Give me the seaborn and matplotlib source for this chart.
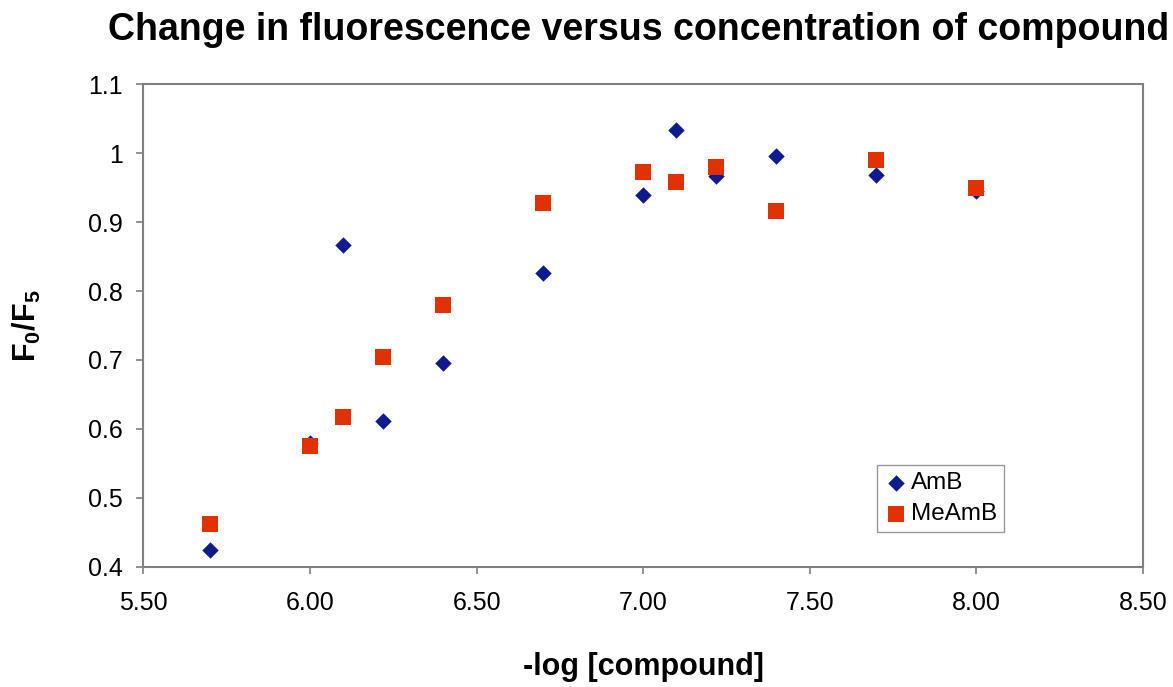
import matplotlib
matplotlib.use("Agg")
import matplotlib.pyplot as plt
import seaborn as sns
import pandas as pd

# -log[compound] values and F0/F5 ratios for each compound
neg_log_conc = [5.70, 6.00, 6.10, 6.22, 6.40, 6.70, 7.00, 7.10, 7.22, 7.40, 7.70, 8.00]
amb_ratio = [0.424, 0.580, 0.867, 0.612, 0.696, 0.826, 0.939, 1.034, 0.966, 0.995, 0.968, 0.945]
meamb_ratio = [0.462, 0.575, 0.618, 0.705, 0.779, 0.928, 0.972, 0.958, 0.980, 0.916, 0.990, 0.949]
series_names = ["AmB", "MeAmB"]
x_ticks = [5.5, 6.0, 6.5, 7.0, 7.5, 8.0, 8.5]
y_ticks = [0.4, 0.5, 0.6, 0.7, 0.8, 0.9, 1.0, 1.1]

df = pd.DataFrame({
    "x": neg_log_conc * 2,
    "y": amb_ratio + meamb_ratio,
    "series": [series_names[0]] * len(amb_ratio) + [series_names[1]] * len(meamb_ratio),
})

sns.set_style("ticks")
plt.rcParams["font.family"] = ["Liberation Sans", "DejaVu Sans"]
plt.rcParams["mathtext.fontset"] = "custom"
plt.rcParams["mathtext.rm"] = "Liberation Sans"
plt.rcParams["mathtext.bf"] = "Liberation Sans:bold"
plt.rcParams["text.color"] = "black"
plt.rcParams["axes.labelcolor"] = "black"
plt.rcParams["xtick.color"] = "#808080"
plt.rcParams["ytick.color"] = "#808080"
plt.rcParams["xtick.labelcolor"] = "black"
plt.rcParams["ytick.labelcolor"] = "black"

fig = plt.figure(figsize=(11.73, 6.87), dpi=100)
ax = fig.add_axes([0.1223, 0.1747, 0.852, 0.703])

palette = {"AmB": "#101a8f", "MeAmB": "#e03200"}
markers = {"AmB": "D", "MeAmB": "s"}
sizes = {"AmB": 70, "MeAmB": 125}
for i, name in enumerate(series_names):
    sub = df[df["series"] == name]
    sns.scatterplot(
        data=sub, x="x", y="y", ax=ax, color=palette[name],
        marker=markers[name], s=sizes[name],
        linewidth=0, label=name, zorder=3 + i,
    )

ax.set_xlim(5.5, 8.5)
ax.set_ylim(0.4, 1.1)
ax.set_xticks(x_ticks)
ax.set_xticklabels([f"{v:.2f}" for v in x_ticks])
ax.set_yticks(y_ticks)
ax.set_yticklabels([f"{v:g}" for v in y_ticks])

for sp in ax.spines.values():
    sp.set_visible(True)
    sp.set_color("#808080")
    sp.set_linewidth(1.5)
ax.tick_params(axis="both", which="major", direction="out", length=5,
               width=1.2, labelsize=18)
ax.tick_params(axis="x", pad=12)
ax.tick_params(axis="y", pad=10)

ax.set_xlabel("-log [compound]", fontsize=22, fontweight="bold", labelpad=27)
ax.set_ylabel(r"$\mathbf{F_0/F_5}$", fontsize=22, labelpad=32)
fig.text(638.5 / 1173, 1 - 30 / 687,
         "Change in fluorescence versus concentration of compound",
         fontsize=27, fontweight="bold", ha="center", va="center")

leg = ax.legend(loc="upper left", bbox_to_anchor=(0.7335, 0.211), fontsize=17.5,
                frameon=True, fancybox=False, borderpad=0.3, handletextpad=0.1,
                labelspacing=0.35, handlelength=1.0, borderaxespad=0)
leg.get_frame().set_edgecolor("#808080")
leg.get_frame().set_linewidth(1.0)

fig.savefig("out.png", dpi=100)
